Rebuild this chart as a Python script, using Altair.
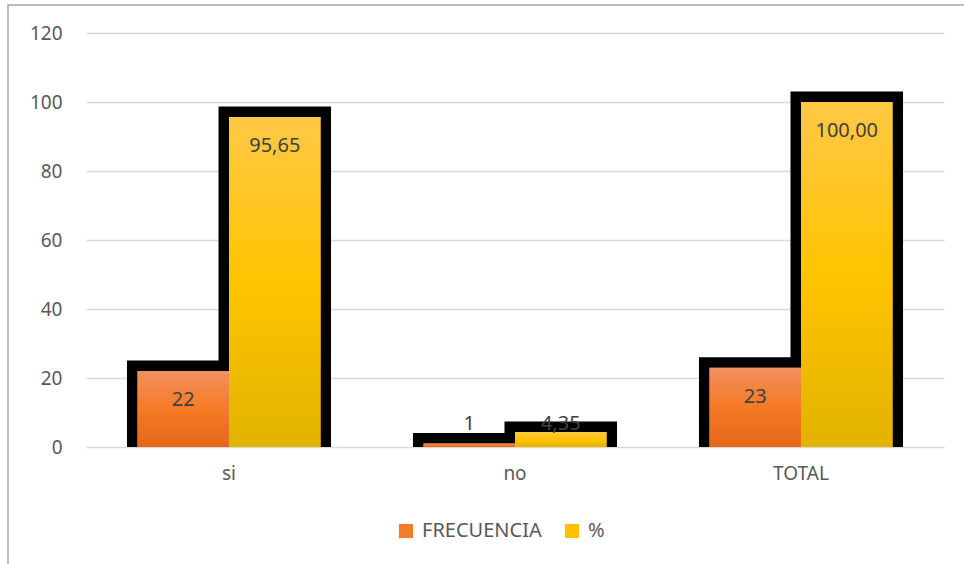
import altair as alt
import pandas as pd

categorias = ["si", "no", "TOTAL"]
series = ["FRECUENCIA", "%"]
frecuencia = [22, 1, 23]
porcentaje = [95.65, 4.35, 100.00]

rows = []
for c, f, p in zip(categorias, frecuencia, porcentaje):
    rows.append({"categoria": c, "serie": "FRECUENCIA", "valor": f, "label": str(f)})
    rows.append({"categoria": c, "serie": "%", "valor": p, "label": f"{p:.2f}".replace(".", ",")})
df = pd.DataFrame(rows)

FONT = "Noto Sans"
ORANGE = "#F07C2C"
YELLOW = "#FFC000"

orange_grad = alt.Gradient(gradient="linear", x1=0, y1=0, x2=0, y2=1,
                           stops=[alt.GradientStop(color="#F29060", offset=0),
                                  alt.GradientStop(color="#F57A24", offset=0.5),
                                  alt.GradientStop(color="#E5661A", offset=1)])
yellow_grad = alt.Gradient(gradient="linear", x1=0, y1=0, x2=0, y2=1,
                           stops=[alt.GradientStop(color="#FFC846", offset=0),
                                  alt.GradientStop(color="#FFC400", offset=0.5),
                                  alt.GradientStop(color="#E2B300", offset=1)])

base = alt.Chart(df).encode(
    x=alt.X("categoria:N", sort=categorias, title=None,
            scale=alt.Scale(paddingInner=0.36, paddingOuter=0.18),
            axis=alt.Axis(labelAngle=0, ticks=False, tickSize=0, domain=False, grid=False,
                          labelPadding=17, labelFont=FONT, labelFontSize=19,
                          labelColor="#595959")),
    xOffset=alt.XOffset("serie:N", sort=series, scale=alt.Scale(domain=series, paddingInner=0, paddingOuter=0)),
    y=alt.Y("valor:Q", title=None, scale=alt.Scale(domain=[0, 120]),
            axis=alt.Axis(values=[0, 20, 40, 60, 80, 100, 120], ticks=False, tickSize=0,
                          domain=False, grid=True, gridColor="#D9D9D9", gridWidth=1.5,
                          labelPadding=24, labelFont=FONT, labelFontSize=19,
                          labelColor="#595959")),
)

black = base.mark_bar(color="black", stroke="black", strokeWidth=21, clip=True)

solid = base.mark_bar().encode(
    color=alt.Color("serie:N", sort=series,
                    scale=alt.Scale(domain=series, range=[ORANGE, YELLOW]),
                    legend=alt.Legend(title=None, orient="none", direction="horizontal",
                                      legendX=310, legendY=488, symbolType="square",
                                      symbolSize=200, symbolStrokeWidth=0,
                                      labelFont=FONT, labelFontSize=20, labelColor="#595959",
                                      labelOffset=6, columnPadding=20))
)

g_orange = base.transform_filter(alt.datum.serie == "FRECUENCIA").mark_bar(color=orange_grad)
g_yellow = base.transform_filter(alt.datum.serie == "%").mark_bar(color=yellow_grad)

big_labels = base.transform_filter(alt.datum.valor > 10).mark_text(
    dy=29, baseline="middle", font=FONT, fontSize=20, color="#404040"
).encode(text="label:N")

small_labels = base.transform_filter(alt.datum.valor <= 10).transform_calculate(
    ly="6.8"
).mark_text(baseline="middle", font=FONT, fontSize=20, color="#404040").encode(
    y=alt.Y("ly:Q"), text="label:N")

frame = alt.Chart(pd.DataFrame({"a": [0]})).mark_rect(
    filled=False, stroke="#A6A6A6", strokeWidth=1.5
).encode(x=alt.value(-78), x2=alt.value(900), y=alt.value(-28), y2=alt.value(545))

chart = alt.layer(frame, black, solid, g_orange, g_yellow, big_labels, small_labels).properties(
    width=858, height=414,
    autosize=alt.AutoSizeParams(type="none"),
    padding={"left": 86, "top": 33, "right": 20, "bottom": 117},
    background="white",
).configure_view(strokeWidth=0, stroke="transparent")

chart.save("out.html", embed_options={"renderer": "svg", "actions": False})
